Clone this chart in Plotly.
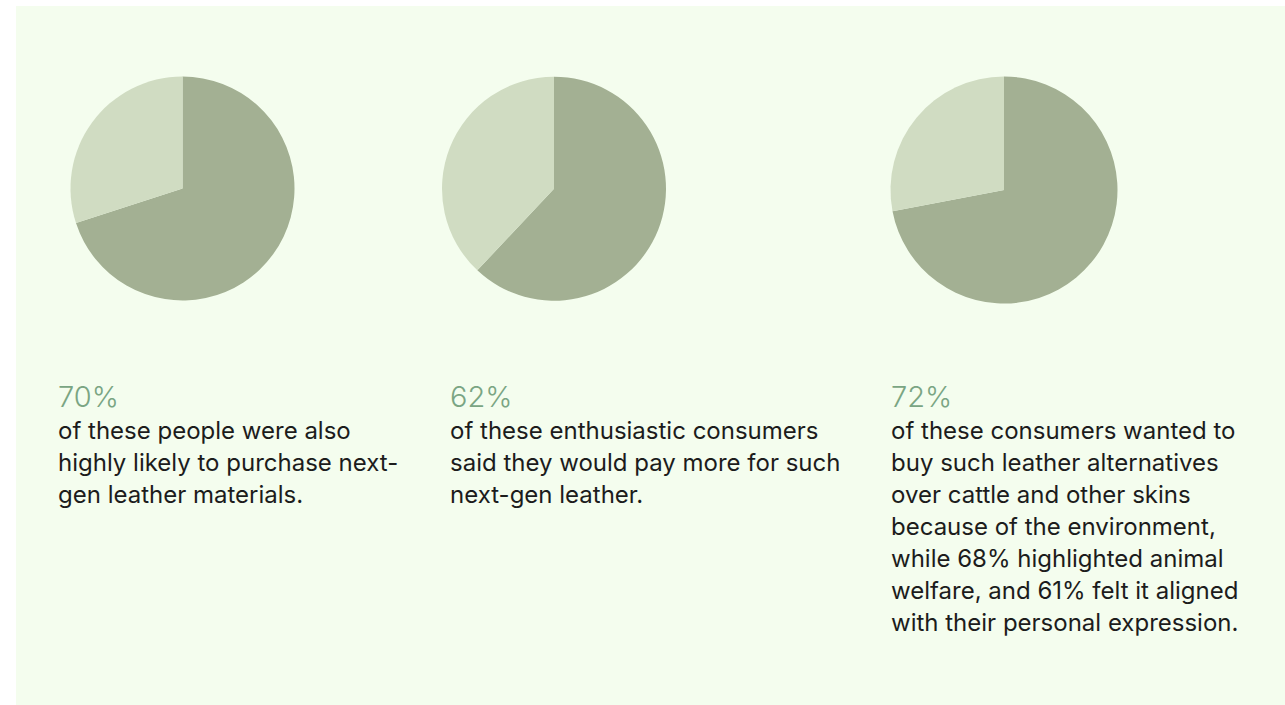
import plotly.graph_objects as go

W, H = 1285, 705

# Survey shares shown in each panel (percent)
shares = [70, 62, 72]
headlines = ["70%", "62%", "72%"]
captions = [
    "of these people were also<br>highly likely to purchase next-<br>gen leather materials.",
    "of these enthusiastic consumers<br>said they would pay more for such<br>next-gen leather.",
    "of these consumers wanted to<br>buy such leather alternatives<br>over cattle and other skins<br>because of the environment,<br>while 68% highlighted animal<br>welfare, and 61% felt it aligned<br>with their personal expression.",
]
slice_labels = ["Yes", "Other"]

# Pie placement in pixels: (center x, center y, radius)
pie_geom = [(182.5, 188.5, 112), (554, 188.7, 112), (1004, 190, 113.5)]
text_x = [56, 448, 889]
LINE_STEP = 32  # caption line spacing in px

DARK = "#a3b093"
LIGHT = "#d0dcc2"
BG = "#f4fdee"
ACCENT = "#7aa583"
INK = "#1c1c1c"
FONT = "Inter"

fig = go.Figure()

for share, (cx, cy, r) in zip(shares, pie_geom):
    fig.add_trace(go.Pie(
        labels=slice_labels,
        values=[share, 100 - share],
        sort=False,
        direction="clockwise",
        rotation=0,
        marker=dict(colors=[DARK, LIGHT], line=dict(width=0)),
        textinfo="none",
        hoverinfo="label+percent",
        showlegend=False,
        domain=dict(
            x=[(cx - r) / W, (cx + r) / W],
            y=[(H - cy - r) / H, (H - cy + r) / H],
        ),
    ))

annotations = []
for x, head, cap in zip(text_x, headlines, captions):
    annotations.append(dict(
        x=x / W, y=1 - 377 / H, xref="paper", yref="paper",
        xanchor="left", yanchor="top", align="left", showarrow=False,
        text=head, font=dict(family=FONT, size=29, color=ACCENT, weight=300),
    ))
    # one annotation per caption line so the leading can be set freely
    for i, line in enumerate(cap.split("<br>")):
        annotations.append(dict(
            x=x / W, y=1 - (414 + LINE_STEP * i) / H, xref="paper", yref="paper",
            xanchor="left", yanchor="top", align="left", showarrow=False,
            text=line, font=dict(family=FONT, size=24, color=INK),
        ))

fig.update_layout(
    width=W, height=H,
    margin=dict(l=0, r=0, t=0, b=0),
    paper_bgcolor="white",
    plot_bgcolor="white",
    shapes=[dict(
        type="rect", xref="paper", yref="paper",
        x0=16 / W, x1=1, y0=0, y1=1 - 6 / H,
        fillcolor=BG, line=dict(width=0), layer="below",
    )],
    annotations=annotations,
)

fig.write_html("out.html")
